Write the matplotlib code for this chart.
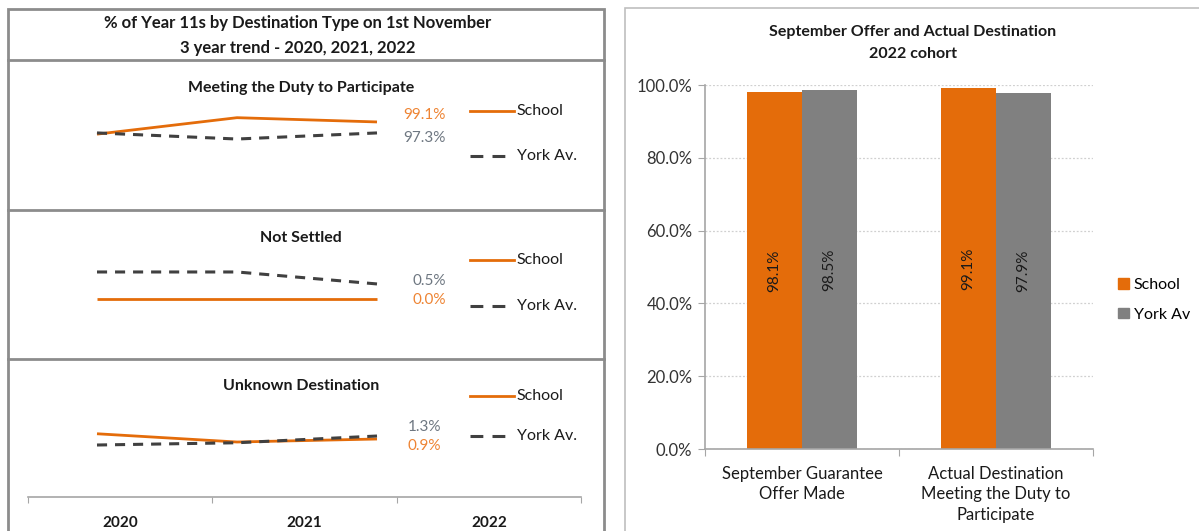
import matplotlib
matplotlib.use("Agg")
import matplotlib.pyplot as plt
from matplotlib.lines import Line2D
from matplotlib.patches import Rectangle, Patch
from matplotlib.ticker import PercentFormatter

plt.rcParams['font.family'] = ['Lato', 'DejaVu Sans']

# ---- data ----
years = ["2020", "2021", "2022"]
panel_titles = ["Meeting the Duty to Participate", "Not Settled", "Unknown Destination"]
school_trend = [
    [97.1, 99.8, 99.1],
    [0.0, 0.0, 0.0],
    [1.6, 0.5, 0.9],
]
york_trend = [
    [97.3, 96.3, 97.3],
    [0.9, 0.9, 0.5],
    [0.1, 0.4, 1.3],
]

bar_categories = ["September Guarantee\nOffer Made",
                  "Actual Destination\nMeeting the Duty to\nParticipate"]
school_bars = [0.981, 0.991]
york_bars = [0.985, 0.979]

ORANGE = "#E46C0A"
GREY = "#808080"
DASH = "#404040"
ORANGE_TXT = "#EE8433"
GREY_TXT = "#6E7781"
TXT = "#1a1a1a"
BORDER = "#8C8C8C"

W, H = 1199, 531


def box(x0, y0, x1, y1):
    # pixel rectangle (top-left origin) -> figure fraction
    return [x0 / W, 1 - y1 / H, (x1 - x0) / W, (y1 - y0) / H]


def fx(x):
    return x / W


def fy(y):
    return 1 - y / H


fig = plt.figure(figsize=(W / 100, H / 100), dpi=100)

# ---- frames ----
fig.patches.append(Rectangle((fx(8), fy(540)), fx(604) - fx(8), fy(9) - fy(540),
                             transform=fig.transFigure, fill=False,
                             edgecolor=BORDER, lw=2))
for yy in [60, 210, 359]:
    fig.add_artist(Line2D([fx(8), fx(604)], [fy(yy), fy(yy)],
                          transform=fig.transFigure, color=BORDER, lw=2))
fig.patches.append(Rectangle((fx(625), fy(540)), fx(1210) - fx(625), fy(8) - fy(540),
                             transform=fig.transFigure, fill=False,
                             edgecolor="#BFBFBF", lw=1.2))

# ---- left header ----
fig.text(fx(298), fy(23), "% of Year 11s by Destination Type on 1st November",
         ha="center", va="center", fontsize=12, fontweight="bold", color=TXT)
fig.text(fx(298), fy(48), "3 year trend - 2020, 2021, 2022",
         ha="center", va="center", fontsize=12, fontweight="bold", color=TXT)

# ---- left trend panels ----
axes_rows = [(100, 150), (260, 310), (410, 460)]
ylims = [(94.5, 102.7), (-0.37, 1.3), (-1.9, 4.77)]
title_y = [88, 238, 386]
legend_y = [111, 260, 396]
legend_pitch = [45, 46, 40]
label_right = [446, 446, 441]
label_dy = [(7, -5), (-1, 3), (-7, 9)]  # (school, york) offsets in px, up positive

for i in range(3):
    ax = fig.add_axes(box(27, axes_rows[i][0], 587, axes_rows[i][1]))
    ax.set_xlim(-0.5, 3.5)
    ax.set_ylim(*ylims[i])
    ax.axis("off")
    xs = range(len(years))
    ax.plot(xs, school_trend[i], color=ORANGE, lw=2.0, solid_capstyle="butt")
    ax.plot(xs, york_trend[i], color=DASH, lw=2.2, dashes=(3.3, 2.6))
    ax.annotate(f"{school_trend[i][-1]:.1f}%", xy=(2, school_trend[i][-1]),
                xytext=(label_right[i] - 377, label_dy[i][0]), textcoords="offset pixels",
                ha="right", va="center", fontsize=11, color=ORANGE_TXT)
    ax.annotate(f"{york_trend[i][-1]:.1f}%", xy=(2, york_trend[i][-1]),
                xytext=(label_right[i] - 377, label_dy[i][1]), textcoords="offset pixels",
                ha="right", va="center", fontsize=11, color=GREY_TXT)

    fig.text(fx(301), fy(title_y[i]), panel_titles[i], ha="center", va="center",
             fontsize=11.5, fontweight="bold", color=TXT)

    # legend
    hx0, hx1 = 470, 514
    ly1 = legend_y[i]
    ly2 = ly1 + legend_pitch[i]
    fig.add_artist(Line2D([fx(hx0), fx(hx1)], [fy(ly1), fy(ly1)],
                          transform=fig.transFigure, color=ORANGE, lw=2.0))
    fig.add_artist(Line2D([fx(hx0), fx(hx1 - 3)], [fy(ly2), fy(ly2)],
                          transform=fig.transFigure, color=DASH, lw=2.2,
                          dashes=(4.2, 3.0)))
    fig.text(fx(516), fy(ly1), "School", ha="left", va="center", fontsize=11.5, color=TXT)
    fig.text(fx(517), fy(ly2), "York Av.", ha="left", va="center", fontsize=11.5, color=TXT)

# shared year axis
axx = fig.add_axes(box(28, 470, 581, 497))
axx.set_xlim(-0.5, 2.5)
axx.set_ylim(0, 1)
for s in ["top", "left", "right"]:
    axx.spines[s].set_visible(False)
axx.spines["bottom"].set_color("#A6A6A6")
axx.spines["bottom"].set_linewidth(1.2)
axx.set_yticks([])
axx.set_xticks([-0.5, 0.5, 1.5, 2.5])
axx.set_xticklabels([])
axx.tick_params(axis="x", which="major", length=4, color="#A6A6A6", direction="out")
axx.set_xticks(range(len(years)), minor=True)
axx.set_xticklabels(years, minor=True, fontsize=11, fontweight="bold", color=TXT)
axx.tick_params(axis="x", which="minor", length=0, pad=14)
axx.patch.set_alpha(0)

# ---- right bar chart ----
fig.text(fx(913), fy(32), "September Offer and Actual Destination", ha="center",
         va="center", fontsize=11.5, fontweight="bold", color=TXT)
fig.text(fx(913), fy(54), "2022 cohort", ha="center", va="center",
         fontsize=11.5, fontweight="bold", color=TXT)

axb = fig.add_axes(box(705, 85, 1093, 449))
bw = 55 / 194
xb = range(len(bar_categories))
b1 = axb.bar([x - bw / 2 for x in xb], school_bars, width=bw, color=ORANGE, label="School")
b2 = axb.bar([x + bw / 2 for x in xb], york_bars, width=bw, color=GREY, label="York Av")
axb.bar_label(b1, labels=[f"{v*100:.1f}%" for v in school_bars], label_type="center",
              rotation=90, fontsize=11, color=TXT)
axb.bar_label(b2, labels=[f"{v*100:.1f}%" for v in york_bars], label_type="center",
              rotation=90, fontsize=11, color=TXT)
axb.set_xlim(-0.5, 1.5)
axb.set_ylim(0, 1.0)
axb.yaxis.set_major_formatter(PercentFormatter(1.0, decimals=1))
axb.set_yticks([0, 0.2, 0.4, 0.6, 0.8, 1.0])
axb.grid(axis="y", color="#D0D0D0", linestyle=(0, (1.5, 1.5)), lw=0.9)
axb.set_axisbelow(True)
for s in ["top", "right"]:
    axb.spines[s].set_visible(False)
for s in ["left", "bottom"]:
    axb.spines[s].set_color("#A6A6A6")
    axb.spines[s].set_linewidth(1.2)
axb.tick_params(axis="y", length=5, color="#A6A6A6", labelsize=12, labelcolor="#333333", pad=4)
axb.set_xticks([-0.5, 0.5, 1.5])
axb.set_xticklabels([])
axb.tick_params(axis="x", which="major", length=5, color="#A6A6A6")
axb.set_xticks(list(xb), minor=True)
axb.set_xticklabels(bar_categories, minor=True, fontsize=12, color=TXT, linespacing=1.35)
axb.tick_params(axis="x", which="minor", length=0, pad=12)

fig.legend(handles=[Patch(color=ORANGE), Patch(color=GREY)], labels=["School", "York Av"],
           loc="center left", bbox_to_anchor=(fx(1104), fy(300)), frameon=False,
           fontsize=11.5, handlelength=0.65, handleheight=0.65, handletextpad=0.3,
           labelspacing=0.95)

fig.savefig("out.png", dpi=100)
